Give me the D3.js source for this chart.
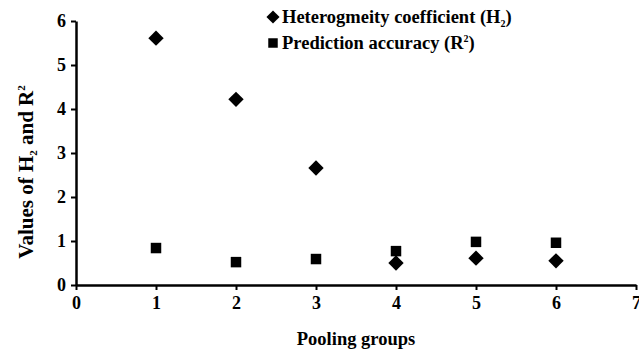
<!DOCTYPE html>
<html>
<head>
<meta charset="utf-8">
<script src="https://cdn.jsdelivr.net/npm/d3@7"></script>
<style>
  body { margin: 0; background: #fff; }
  text { font-family: "Liberation Serif", "DejaVu Serif", serif; font-weight: bold; fill: #000; }
</style>
</head>
<body>
<div id="chart"></div>
<script>
// Pooling groups (x) and the two measured series
const groups = [1, 2, 3, 4, 5, 6];
const heterogeneity = [5.61, 4.22, 2.66, 0.50, 0.61, 0.55];
const accuracy = [0.84, 0.52, 0.59, 0.77, 0.98, 0.96];
const xTicks = [0, 1, 2, 3, 4, 5, 6, 7];
const yTicks = [0, 1, 2, 3, 4, 5, 6];

const width = 639, height = 353;
const margin = {top: 21, right: 3, bottom: 68, left: 76};

const svg = d3.select('#chart')
  .append('svg')
  .attr('width', width)
  .attr('height', height);

const x = d3.scaleLinear()
  .domain([0, 7])
  .range([margin.left, width - margin.right]);

const y = d3.scaleLinear()
  .domain([0, 6])
  .range([height - margin.bottom, margin.top]);

// Axes
const xAxis = svg.append('g')
  .attr('transform', 'translate(0,' + y(0) + ')')
  .call(d3.axisBottom(x).tickValues(xTicks).tickFormat(d3.format('d'))
    .tickSize(5).tickSizeOuter(0).tickPadding(6));

const yAxis = svg.append('g')
  .attr('transform', 'translate(' + x(0) + ',0)')
  .call(d3.axisLeft(y).tickValues(yTicks).tickFormat(d3.format('d'))
    .tickSize(5).tickSizeOuter(0).tickPadding(5));

[xAxis, yAxis].forEach(a => {
  a.select('.domain').attr('stroke', '#000').attr('stroke-width', 2.5);
  a.selectAll('.tick line').attr('stroke', '#000').attr('stroke-width', 2);
  a.selectAll('.tick text')
    .style('font-family', '"Liberation Serif", serif')
    .style('font-weight', 'bold')
    .style('font-size', '18px');
});

// Markers
const diamond = d3.symbol().type(d3.symbolDiamond2).size(150);
const square = d3.symbol().type(d3.symbolSquare).size(110);

svg.append('g').selectAll('path')
  .data(groups.map((g, i) => [g, heterogeneity[i]]))
  .enter()
  .append('path')
  .attr('d', diamond)
  .attr('transform', d => 'translate(' + x(d[0]) + ',' + y(d[1]) + ')')
  .attr('fill', '#000');

svg.append('g').selectAll('path')
  .data(groups.map((g, i) => [g, accuracy[i]]))
  .enter()
  .append('path')
  .attr('d', square)
  .attr('transform', d => 'translate(' + x(d[0]) + ',' + y(d[1]) + ')')
  .attr('fill', '#000');

// Legend
const legend = svg.append('g').attr('transform', 'translate(273,0)');
legend.append('path').attr('d', d3.symbol().type(d3.symbolDiamond2).size(110))
  .attr('transform', 'translate(0,17)');
legend.append('path').attr('d', d3.symbol().type(d3.symbolSquare).size(90))
  .attr('transform', 'translate(0,43)');

const t1 = legend.append('text').attr('x', 9).attr('y', 23).style('font-size', '18.5px');
t1.append('tspan').text('Heterogmeity coefficient (H');
t1.append('tspan').attr('dy', 4).style('font-size', '10px').text('2');
t1.append('tspan').attr('dy', -4).text(')');

const t2 = legend.append('text').attr('x', 9).attr('y', 49).style('font-size', '18.5px');
t2.append('tspan').text('Prediction accuracy (R');
t2.append('tspan').attr('dy', -7).style('font-size', '10px').text('2');
t2.append('tspan').attr('dy', 7).text(')');

// Axis titles
svg.append('text')
  .attr('x', 356)
  .attr('y', 345)
  .attr('text-anchor', 'middle')
  .style('font-size', '18.5px')
  .text('Pooling groups');

const yt = svg.append('text')
  .attr('transform', 'translate(33,172) rotate(-90)')
  .attr('text-anchor', 'middle')
  .style('font-size', '21px');
yt.append('tspan').text('Values of H');
yt.append('tspan').attr('dy', 4).style('font-size', '11px').text('2');
yt.append('tspan').attr('dy', -4).text(' and R');
yt.append('tspan').attr('dy', -8).style('font-size', '11px').text('2');
</script>
</body>
</html>
